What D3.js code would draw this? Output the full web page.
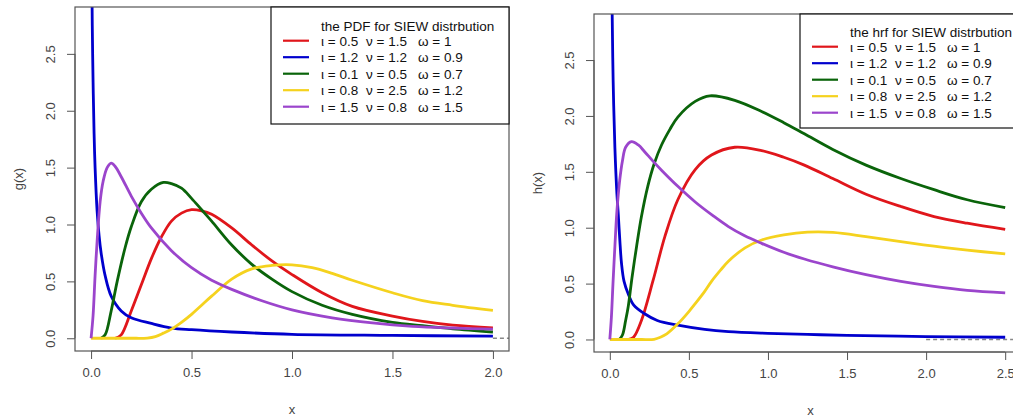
<!DOCTYPE html>
<html>
<head>
<meta charset="utf-8">
<script src="https://cdn.jsdelivr.net/npm/d3@7.9.0/dist/d3.min.js"></script>
<style>
  body { margin: 0; background: #fff; }
  svg { display: block; font-family: "Liberation Sans", Arial, sans-serif; }
</style>
</head>
<body>
<svg id="chart" width="1013" height="417"></svg>
<script>
// ---- data ----
const iotaVals  = ["0.5", "1.2", "0.1", "0.8", "1.5"];
const nuVals    = ["1.5", "1.2", "0.5", "2.5", "0.8"];
const omegaVals = ["1", "0.9", "0.7", "1.2", "1.5"];

const yTicks = [0, 0.5, 1, 1.5, 2, 2.5];
const pdfXTicks = [0, 0.5, 1, 1.5, 2];
const hrfXTicks = [0, 0.5, 1, 1.5, 2, 2.5];

// PDF curves  [x, g(x)]
const pdfRed = [[0.12,0],[0.15,0.03],[0.2,0.24],[0.25,0.47],[0.3,0.70],[0.35,0.89],[0.4,1.03],[0.45,1.10],[0.5,1.13],[0.55,1.12],[0.6,1.09],[0.7,0.97],[0.8,0.82],[0.9,0.68],[1.0,0.56],[1.15,0.40],[1.3,0.28],[1.5,0.195],[1.65,0.148],[1.8,0.115],[2.0,0.092]];
const pdfBlue = [[0.004,3.2],[0.006,2.75],[0.01,2.25],[0.015,1.8],[0.02,1.5],[0.03,1.12],[0.04,0.9],[0.05,0.75],[0.07,0.55],[0.1,0.37],[0.15,0.24],[0.2,0.18],[0.3,0.13],[0.4,0.09],[0.5,0.075],[0.7,0.055],[1.0,0.035],[1.5,0.025],[2.0,0.018]];
const pdfGreen = [[0.05,0],[0.07,0.03],[0.1,0.24],[0.13,0.5],[0.17,0.8],[0.2,0.98],[0.25,1.2],[0.3,1.31],[0.36,1.37],[0.4,1.36],[0.45,1.32],[0.5,1.23],[0.55,1.13],[0.6,1.03],[0.7,0.82],[0.8,0.65],[0.9,0.52],[1.0,0.41],[1.15,0.29],[1.3,0.21],[1.5,0.14],[1.65,0.11],[1.8,0.083],[2.0,0.055]];
const pdfYellow = [[0,0],[0.1,0],[0.2,0],[0.28,0.002],[0.32,0.015],[0.36,0.045],[0.4,0.08],[0.45,0.14],[0.5,0.21],[0.55,0.29],[0.6,0.37],[0.7,0.52],[0.8,0.61],[0.9,0.64],[1.0,0.645],[1.1,0.62],[1.2,0.57],[1.3,0.51],[1.5,0.40],[1.65,0.33],[1.8,0.29],[2.0,0.245]];
const pdfPurple = [[0,0],[0.01,0.2],[0.02,0.55],[0.03,0.85],[0.045,1.2],[0.06,1.38],[0.08,1.5],[0.1,1.54],[0.12,1.51],[0.15,1.42],[0.2,1.25],[0.25,1.10],[0.3,0.97],[0.4,0.77],[0.5,0.62],[0.6,0.51],[0.7,0.43],[0.85,0.33],[1.0,0.25],[1.2,0.18],[1.4,0.135],[1.6,0.105],[1.8,0.09],[2.0,0.08]];

// hrf curves  [x, h(x)]
const hrfRed = [[0.12,0],[0.15,0.02],[0.2,0.17],[0.274,0.53],[0.348,0.92],[0.43,1.25],[0.54,1.52],[0.643,1.65],[0.79,1.72],[0.96,1.69],[1.1,1.63],[1.23,1.56],[1.41,1.44],[1.62,1.30],[1.84,1.19],[2.05,1.10],[2.26,1.04],[2.5,0.985]];
const hrfBlue = [[0.012,3.2],[0.015,2.91],[0.021,2.32],[0.032,1.72],[0.045,1.3],[0.053,1.13],[0.065,0.85],[0.074,0.68],[0.09,0.52],[0.116,0.41],[0.15,0.31],[0.22,0.23],[0.3,0.17],[0.43,0.128],[0.6,0.09],[0.75,0.07],[1.0,0.055],[1.25,0.045],[1.5,0.037],[2.0,0.026],[2.5,0.02]];
const hrfGreen = [[0.06,0],[0.08,0.04],[0.1,0.17],[0.116,0.29],[0.14,0.55],[0.169,0.83],[0.2,1.1],[0.24,1.37],[0.28,1.57],[0.327,1.74],[0.38,1.88],[0.43,1.99],[0.54,2.13],[0.633,2.18],[0.79,2.14],[0.96,2.04],[1.1,1.94],[1.23,1.84],[1.41,1.70],[1.62,1.56],[1.84,1.44],[2.05,1.34],[2.26,1.25],[2.5,1.18]];
const hrfYellow = [[0,0],[0.1,0],[0.2,0],[0.28,0.002],[0.32,0.02],[0.36,0.05],[0.43,0.14],[0.5,0.25],[0.54,0.32],[0.6,0.43],[0.643,0.52],[0.7,0.62],[0.75,0.70],[0.855,0.82],[0.96,0.89],[1.1,0.935],[1.25,0.96],[1.41,0.958],[1.62,0.92],[1.84,0.875],[2.05,0.835],[2.26,0.80],[2.5,0.765]];
const hrfPurple = [[0,0],[0.01,0.2],[0.02,0.5],[0.032,0.83],[0.045,1.15],[0.063,1.43],[0.08,1.6],[0.1,1.72],[0.137,1.77],[0.18,1.74],[0.22,1.68],[0.27,1.6],[0.33,1.51],[0.43,1.37],[0.54,1.23],[0.65,1.11],[0.75,1.01],[0.85,0.93],[0.96,0.86],[1.1,0.78],[1.23,0.72],[1.41,0.65],[1.62,0.58],[1.84,0.52],[2.05,0.475],[2.26,0.44],[2.5,0.417]];

const colors = ["#e0161b", "#0000cd", "#0a640a", "#f5d21e", "#9b45cc"];

const svg = d3.select("#chart");
svg.append("rect").attr("width", 1013).attr("height", 417).attr("fill", "#fff");

function drawPanel(opt) {
  const { id, box, xMax, xTicks, series, ylab, title, legend } = opt;
  // R style 4% extension
  const xPad = xMax * 0.04, yMax = 2.8, yPad = yMax * 0.04;
  const x = d3.scaleLinear().domain([-xPad, xMax + xPad]).range([box.left, box.right]);
  const y = d3.scaleLinear().domain([-yPad, yMax + yPad]).range([box.bottom, box.top]);

  svg.append("clipPath").attr("id", "clip-" + id)
    .append("rect")
    .attr("x", box.left).attr("y", box.top)
    .attr("width", box.right - box.left).attr("height", box.bottom - box.top);

  const g = svg.append("g");
  const plot = g.append("g").attr("clip-path", `url(#clip-${id})`);

  // dashed zero segment on the right end
  plot.append("line")
    .attr("x1", x(2)).attr("x2", box.right + 20)
    .attr("y1", y(0)).attr("y2", y(0))
    .attr("stroke", "#888").attr("stroke-width", 1.3)
    .attr("stroke-dasharray", "4,3");

  const line = d3.line()
    .x(d => x(d[0])).y(d => y(d[1]))
    .curve(d3.curveCatmullRom.alpha(0.5));

  series.forEach((s, i) => {
    plot.append("path")
      .datum(s)
      .attr("d", line)
      .attr("fill", "none")
      .attr("stroke", colors[i])
      .attr("stroke-width", 2.8)
      .attr("stroke-linejoin", "round");
  });

  // frame
  g.append("rect")
    .attr("x", box.left).attr("y", box.top)
    .attr("width", box.right - box.left).attr("height", box.bottom - box.top)
    .attr("fill", "none").attr("stroke", "#555").attr("stroke-width", 1.2);

  // x axis
  const xa = g.append("g").attr("transform", `translate(0,${box.bottom})`)
    .call(d3.axisBottom(x).tickValues(xTicks).tickFormat(d3.format(".1f")).tickSize(8).tickPadding(9));
  xa.select(".domain").attr("d", `M${x(xTicks[0])},0H${x(xTicks[xTicks.length - 1])}`).attr("stroke", "#555");
  xa.selectAll(".tick line").attr("stroke", "#555");
  xa.selectAll("text").attr("font-size", 13).attr("fill", "#444").attr("font-family", null);

  // y axis, labels turned like R
  const ya = g.append("g").attr("transform", `translate(${box.left},0)`)
    .call(d3.axisLeft(y).tickValues(yTicks).tickFormat(d3.format(".1f")).tickSize(8));
  ya.select(".domain").attr("d", `M0,${y(yTicks[0])}V${y(yTicks[yTicks.length - 1])}`).attr("stroke", "#555");
  ya.selectAll(".tick line").attr("stroke", "#555");
  ya.selectAll("text")
    .attr("x", null).attr("dy", null)
    .attr("transform", "translate(-25,0) rotate(-90)")
    .attr("text-anchor", "middle").attr("dominant-baseline", "central")
    .attr("font-size", 13).attr("fill", "#444").attr("font-family", null);

  // axis titles
  g.append("text")
    .attr("x", (box.left + box.right) / 2 - (id === "hrf" ? -3 : 0)).attr("y", box.bottom + 58)
    .attr("text-anchor", "middle").attr("dominant-baseline", "central")
    .attr("font-size", 13).attr("fill", "#444").text("x");
  g.append("text")
    .attr("transform", `translate(${box.left - 57},${(box.top + box.bottom) / 2}) rotate(-90)`)
    .attr("text-anchor", "middle").attr("dominant-baseline", "central")
    .attr("font-size", 13).attr("fill", "#444").text(ylab);

  // legend
  const lg = g.append("g");
  lg.append("rect")
    .attr("x", legend.left).attr("y", legend.top)
    .attr("width", legend.right - legend.left).attr("height", legend.bottom - legend.top)
    .attr("fill", "#fff").attr("stroke", "#111").attr("stroke-width", 1.2);
  lg.append("text")
    .attr("x", legend.textX).attr("y", legend.titleY)
    .attr("dominant-baseline", "central")
    .attr("font-size", 13.5).attr("fill", "#111").text(title);

  iotaVals.forEach((iv, i) => {
    const ry = legend.rowY + i * 16.5;
    lg.append("line")
      .attr("x1", legend.lineX1).attr("x2", legend.lineX2)
      .attr("y1", ry).attr("y2", ry)
      .attr("stroke", colors[i]).attr("stroke-width", 2.2);
    const t = lg.append("text")
      .attr("y", ry).attr("dominant-baseline", "central")
      .attr("font-size", 13.5).attr("fill", "#111");
    t.append("tspan").attr("x", legend.textX).text(`ι = ${iv}`);
    t.append("tspan").attr("x", legend.textX + 45).text(`ν = ${nuVals[i]}`);
    t.append("tspan").attr("x", legend.textX + 97).text(`ω = ${omegaVals[i]}`);
  });
}

drawPanel({
  id: "pdf",
  box: { left: 75, right: 509, top: 7, bottom: 351 },
  xMax: 2, xTicks: pdfXTicks,
  series: [pdfRed, pdfBlue, pdfGreen, pdfYellow, pdfPurple],
  ylab: "g(x)",
  title: "the PDF for SIEW distrbution",
  legend: { left: 271, right: 509, top: 7, bottom: 124, textX: 321, titleY: 26,
            rowY: 40.7, lineX1: 283, lineX2: 309 }
});

drawPanel({
  id: "hrf",
  box: { left: 594, right: 1021, top: 14, bottom: 352 },
  xMax: 2.5, xTicks: hrfXTicks,
  series: [hrfRed, hrfBlue, hrfGreen, hrfYellow, hrfPurple],
  ylab: "h(x)",
  title: "the hrf for SIEW distrbution",
  legend: { left: 800, right: 1030, top: 14, bottom: 128, textX: 850, titleY: 32,
            rowY: 46.7, lineX1: 812, lineX2: 838 }
});
</script>
</body>
</html>
